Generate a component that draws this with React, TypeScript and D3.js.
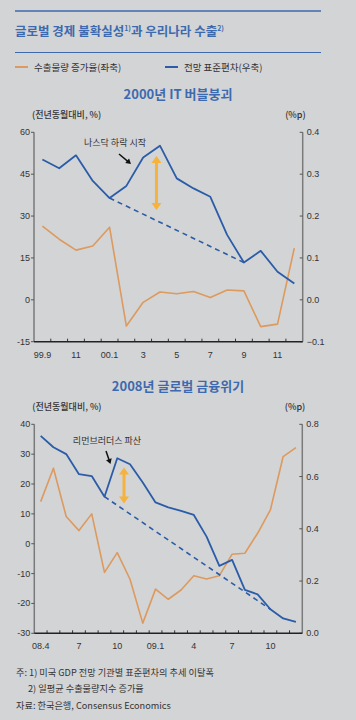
import React from "react";
import * as d3 from "d3";

// ---------- DATA ----------
const topCategories = ["99.9","99.10","99.11","99.12","00.1","00.2","00.3","00.4","00.5","00.6","00.7","00.8","00.9","00.10","00.11","00.12"];
const topTickLabels = ["99.9","","11","","00.1","","3","","5","","7","","9","","11",""];
const topExport = [26.4, 21.7, 17.8, 19.3, 26.0, -9.4, -0.9, 2.8, 2.2, 3.0, 0.8, 3.5, 3.2, -9.6, -8.7, 18.5];
const topStd = [0.335, 0.314, 0.345, 0.284, 0.243, 0.272, 0.34, 0.368, 0.29, 0.266, 0.246, 0.155, 0.089, 0.117, 0.067, 0.039];
const topTrendIdx = [4, 12];
const topLeftTicks = [60, 45, 30, 15, 0, -15];
const topRightTicks = [0.4, 0.3, 0.2, 0.1, 0.0, -0.1];

const botCategories = ["08.4","08.5","08.6","08.7","08.8","08.9","08.10","08.11","08.12","09.1","09.2","09.3","09.4","09.5","09.6","09.7","09.8","09.9","09.10","09.11","09.12"];
const botTickLabels = ["08.4","","","7","","","10","","","09.1","","","4","","","7","","","10","",""];
const botExport = [14.1, 25.3, 9.1, 4.4, 10.0, -9.6, -3.0, -11.9, -26.6, -15.2, -18.6, -15.5, -10.7, -11.8, -10.7, -3.5, -3.2, 3.5, 11.3, 29.2, 32.2];
const botStd = [0.756, 0.712, 0.686, 0.609, 0.602, 0.523, 0.670, 0.647, 0.577, 0.501, 0.482, 0.469, 0.453, 0.37, 0.258, 0.281, 0.166, 0.149, 0.092, 0.057, 0.044];
const botTrendIdx = [5, 18];
const botLeftTicks = [40, 30, 20, 10, 0, -10, -20, -30];
const botRightTicks = [0.8, 0.6, 0.4, 0.2, 0.0];

// ---------- STYLE ----------
const BG = "#d3d4d6";
const BLUE = "#2b5ca8";
const ORANGE = "#dc9a5e";
const ARROW_ORANGE = "#f6b23a";
const TITLE_BLUE = "#3d6aae";
const TEXT = "#333";
const KFONT = "'Noto Sans CJK KR', 'Noto Sans', sans-serif";
const NFONT = "'Liberation Sans', Arial, sans-serif";

type PanelProps = {
  categories: string[];
  tickLabels: string[];
  exportVals: number[];
  stdVals: number[];
  trendIdx: number[];
  leftDomain: [number, number];
  rightDomain: [number, number];
  leftTicks: number[];
  rightTicks: number[];
  rightFmt: (v: number) => string;
  x0: number; x1: number; yTop: number; yBot: number;
  title: string; titleY: number;
  annoText: string; annoTextX: number; annoTextY: number;
  blackArrow: [number, number, number, number]; // in px offsets relative to the point index
  annoIdx: number;
  doubleArrow: { dx: number; from: number; to: number };
};

function Panel(p: PanelProps) {
  const x = d3.scaleBand<string>().domain(p.categories).range([p.x0, p.x1]).padding(0);
  const cx = (c: string) => (x(c) as number) + x.bandwidth() / 2;
  const yL = d3.scaleLinear().domain(p.leftDomain).range([p.yBot, p.yTop]);
  const yR = d3.scaleLinear().domain(p.rightDomain).range([p.yBot, p.yTop]);

  const lineL = d3.line<number>().x((_, i) => cx(p.categories[i])).y((d) => yL(d));
  const lineR = d3.line<number>().x((_, i) => cx(p.categories[i])).y((d) => yR(d));
  const trend = p.trendIdx.map((i) => [cx(p.categories[i]), yR(p.stdVals[i])] as [number, number]);

  const ax = cx(p.categories[p.annoIdx]) + p.doubleArrow.dx;
  const ay1 = yL(p.doubleArrow.from);
  const ay2 = yL(p.doubleArrow.to);
  const [bx1, by1, bx2, by2] = p.blackArrow;

  // black arrow head
  const ang = Math.atan2(by2 - by1, bx2 - bx1);
  const hl = 5, hw = 3;
  const head = [
    [bx2, by2],
    [bx2 - hl * Math.cos(ang) + hw * Math.sin(ang), by2 - hl * Math.sin(ang) - hw * Math.cos(ang)],
    [bx2 - hl * Math.cos(ang) - hw * Math.sin(ang), by2 - hl * Math.sin(ang) + hw * Math.cos(ang)],
  ];

  const boundaries = p.categories.slice(1).map((c) => x(c) as number);

  return (
    <g>
      <text x={178} y={p.titleY} textAnchor="middle" fontFamily={KFONT} fontWeight={700} fontSize={13} fill={TITLE_BLUE}>{p.title}</text>
      <text x={p.x0 - 2} y={p.yTop - 14} fontFamily={KFONT} fontSize={9} fontWeight={500} fill={TEXT}>(전년동월대비, %)</text>
      <text x={p.x1 + 3} y={p.yTop - 14} textAnchor="end" fontFamily={KFONT} fontSize={9} fontWeight={500} fill={TEXT}>(%p)</text>

      {/* left axis */}
      <line x1={p.x0} x2={p.x0} y1={p.yTop} y2={p.yBot} stroke="#7a7a7a" strokeWidth={1.5} />
      {p.leftTicks.map((t) => (
        <g key={"l" + t}>
          <line x1={p.x0 - 3} x2={p.x0} y1={yL(t)} y2={yL(t)} stroke="#555" strokeWidth={1} />
          <text x={p.x0 - 4} y={yL(t) + 3} textAnchor="end" fontFamily={NFONT} fontSize={9} fill={TEXT}>{t}</text>
        </g>
      ))}
      {/* right axis */}
      <line x1={p.x1} x2={p.x1} y1={p.yTop} y2={p.yBot} stroke="#7a7a7a" strokeWidth={1.5} />
      {p.rightTicks.map((t) => (
        <g key={"r" + t}>
          <line x1={p.x1 - 3} x2={p.x1} y1={yR(t)} y2={yR(t)} stroke="#555" strokeWidth={1} />
          <text x={p.x1 + 4} y={yR(t) + 3} fontFamily={NFONT} fontSize={9} fill={TEXT}>{p.rightFmt(t)}</text>
        </g>
      ))}
      {/* x axis */}
      {boundaries.map((b, i) => (
        <line key={"b" + i} x1={b} x2={b} y1={p.yBot} y2={p.yBot - 3} stroke="#333" strokeWidth={1} />
      ))}
      <line x1={p.x0} x2={p.x1} y1={p.yBot} y2={p.yBot} stroke="#222" strokeWidth={1.5} />
      {p.categories.map((c, i) =>
        p.tickLabels[i] ? (
          <text key={"x" + c} x={cx(c)} y={p.yBot + 16} textAnchor="middle" fontFamily={NFONT} fontSize={9} fill={TEXT}>{p.tickLabels[i]}</text>
        ) : null
      )}

      {/* series */}
      <path d={lineL(p.exportVals) || ""} fill="none" stroke={ORANGE} strokeWidth={1.6} strokeLinejoin="round" />
      <path d={d3.line()(trend) || ""} fill="none" stroke={BLUE} strokeWidth={1.6} strokeDasharray="5,4" />
      <path d={lineR(p.stdVals) || ""} fill="none" stroke={BLUE} strokeWidth={1.8} strokeLinejoin="round" />

      {/* annotation */}
      <text x={p.annoTextX} y={p.annoTextY} textAnchor="middle" fontFamily={KFONT} fontSize={9} fill={TEXT}>{p.annoText}</text>
      <line x1={bx1} y1={by1} x2={bx2 - 3 * Math.cos(ang)} y2={by2 - 3 * Math.sin(ang)} stroke="#111" strokeWidth={1.5} />
      <polygon points={head.map((q) => q.join(",")).join(" ")} fill="#111" />

      {/* orange double arrow */}
      <line x1={ax} x2={ax} y1={ay1 + 5} y2={ay2 - 5} stroke={ARROW_ORANGE} strokeWidth={3} />
      <polygon points={`${ax},${ay1} ${ax - 5},${ay1 + 7} ${ax + 5},${ay1 + 7}`} fill={ARROW_ORANGE} />
      <polygon points={`${ax},${ay2} ${ax - 5},${ay2 - 7} ${ax + 5},${ay2 - 7}`} fill={ARROW_ORANGE} />
    </g>
  );
}

export default function App() {
  return (
    <svg width={356} height={720} style={{ position: "absolute", left: 0, top: 0, display: "block" }}>
      <rect x={0} y={0} width={356} height={720} fill={BG} />
      <line x1={15} x2={321} y1={11} y2={11} stroke={TITLE_BLUE} strokeWidth={1.3} />
      <text x={15} y={36} fontFamily={KFONT} fontWeight={700} fontSize={12.5} fill={TITLE_BLUE}>
        글로벌 경제 불확실성<tspan fontSize={7} dy={-5}>1)</tspan><tspan dy={5}>과 우리나라 수출</tspan><tspan fontSize={7} dy={-5}>2)</tspan>
      </text>
      <line x1={15} x2={321} y1={52.5} y2={52.5} stroke={TITLE_BLUE} strokeWidth={1} />

      {/* legend */}
      <line x1={15} x2={28} y1={67} y2={67} stroke={ORANGE} strokeWidth={2} />
      <text x={34} y={70.5} fontFamily={KFONT} fontSize={9.5} fill={TEXT}>수출물량 증가율(좌축)</text>
      <line x1={165} x2={178} y1={67} y2={67} stroke={BLUE} strokeWidth={2} />
      <text x={184} y={70.5} fontFamily={KFONT} fontSize={9.5} fill={TEXT}>전망 표준편차(우축)</text>

      <Panel
        categories={topCategories}
        tickLabels={topTickLabels}
        exportVals={topExport}
        stdVals={topStd}
        trendIdx={topTrendIdx}
        leftDomain={[-15, 60]}
        rightDomain={[-0.1, 0.4]}
        leftTicks={topLeftTicks}
        rightTicks={topRightTicks}
        rightFmt={(v) => d3.format(".1f")(v)}
        x0={34} x1={302.7} yTop={132.3} yBot={341.7}
        title="2000년 IT 버블붕괴" titleY={99}
        annoText="나스닥 하락 시작" annoTextX={115} annoTextY={146}
        blackArrow={[119, 154, 131, 164]}
        annoIdx={7}
        doubleArrow={{ dx: -3.5, from: 51.5, to: 32.2 }}
      />
      <Panel
        categories={botCategories}
        tickLabels={botTickLabels}
        exportVals={botExport}
        stdVals={botStd}
        trendIdx={botTrendIdx}
        leftDomain={[-30, 40]}
        rightDomain={[0, 0.8]}
        leftTicks={botLeftTicks}
        rightTicks={botRightTicks}
        rightFmt={(v) => d3.format(".1f")(v)}
        x0={34.3} x1={302.3} yTop={424.3} yBot={633.3}
        title="2008년 글로벌 금융위기" titleY={390.5}
        annoText="리먼브러더스 파산" annoTextX={107} annoTextY={443.5}
        blackArrow={[106, 451, 110.5, 464]}
        annoIdx={7}
        doubleArrow={{ dx: -6, from: 25.5, to: 13.5 }}
      />

      {/* footnotes */}
      <text x={16} y={675.5} fontFamily={KFONT} fontSize={9.2} fill={TEXT}>주: 1) 미국 GDP 전망 기관별 표준편차의 추세 이탈폭</text>
      <text x={28} y={692} fontFamily={KFONT} fontSize={9.2} fill={TEXT}>2) 일평균 수출물량지수 증가율</text>
      <text x={16} y={708.5} fontFamily={KFONT} fontSize={9.2} fill={TEXT}>자료: 한국은행, Consensus Economics</text>
    </svg>
  );
}
